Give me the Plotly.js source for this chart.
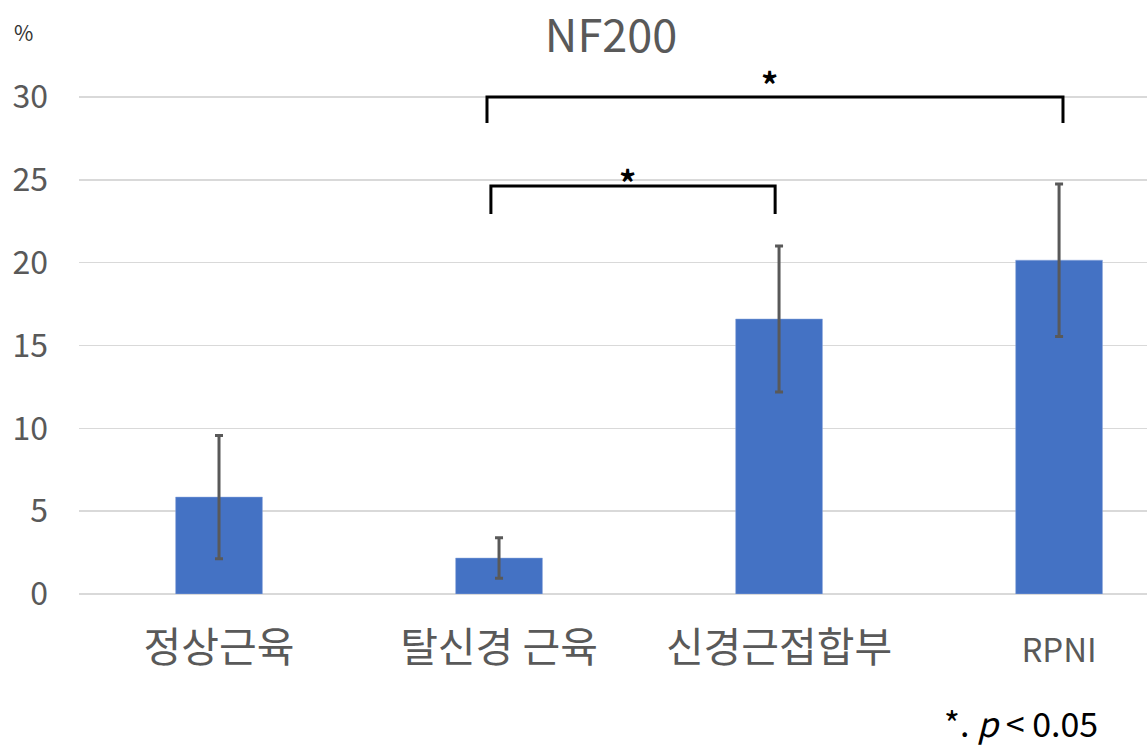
<!DOCTYPE html>
<html>
<head>
<meta charset="utf-8">
<script src="https://cdn.plot.ly/plotly-3.0.1.min.js"></script>
<style>html,body{margin:0;padding:0;background:#fff;}#chart{width:1147px;height:747px;}</style>
</head>
<body>
<div id="chart"></div>
<script>
var categories = ["정상근육", "탈신경 근육", "신경근접합부", "RPNI"];
var means = [5.85, 2.17, 16.6, 20.15];
var errors = [3.72, 1.22, 4.4, 4.6];
var yTicks = [0, 5, 10, 15, 20, 25, 30];
var comparisons = [
  {from: 1, to: 3, level: 30.0, drop: 1.57, label: "*"},
  {from: 1, to: 2, level: 24.63, drop: 1.69, label: "*"}
];

var FONT = '"Noto Sans CJK KR", "Noto Sans", sans-serif';
var xIdx = categories.map(function(_, i){ return i; });

var trace = {
  type: 'bar',
  x: xIdx,
  y: means,
  width: 0.31,
  marker: {color: '#4472C4', line: {color: '#8fa9dc', width: 0.5}},
  error_y: {type: 'data', array: errors, visible: true, color: '#595959', thickness: 3, width: 4},
  hoverinfo: 'none'
};

var bracketOffsets = [[-0.043, 0.014], [-0.029, -0.014]];
var starY = [30.84, 24.87];
var shapes = [];
var annotations = [];
comparisons.forEach(function(c, i){
  var x0 = c.from + bracketOffsets[i][0], x1 = c.to + bracketOffsets[i][1];
  shapes.push({
    type: 'path', xref: 'x', yref: 'y',
    path: 'M ' + x0 + ' ' + (c.level - c.drop) + ' L ' + x0 + ' ' + c.level + ' L ' + x1 + ' ' + c.level + ' L ' + x1 + ' ' + (c.level - c.drop),
    line: {color: '#000', width: 3}
  });
  annotations.push({
    xref: 'x', yref: 'y', x: (x0 + x1) / 2 - 0.02, y: starY[i],
    text: '<b>' + c.label + '</b>', showarrow: false, yanchor: 'middle',
    font: {family: FONT, size: 34, color: '#000'}
  });
});

annotations.push({
  xref: 'paper', yref: 'paper', x: -79/1068, y: 1 + (40 - 32)/554,
  xanchor: 'left', yanchor: 'middle', xshift: 12,
  text: '%', showarrow: false,
  font: {family: FONT, size: 21, color: '#333'}
});
annotations.push({
  xref: 'paper', yref: 'paper', x: (1021 - 79)/1068, y: -(722 - 594)/554,
  xanchor: 'center', yanchor: 'middle',
  text: '*. <i>p</i> &lt; 0.05', showarrow: false,
  font: {family: FONT, size: 34, color: '#000'}
});

var tickText = categories.map(function(c){
  return /^[A-Za-z]+$/.test(c) ? '<span style="font-size:33px">' + c + '</span>' : c;
});

var layout = {
  width: 1147, height: 747,
  margin: {l: 79, r: 0, t: 40, b: 153, pad: 0},
  paper_bgcolor: '#fff', plot_bgcolor: '#fff',
  showlegend: false,
  title: {text: 'NF200', x: 611/1147, xanchor: 'center', y: 1 - 36/747, yanchor: 'middle', yref: 'container',
          font: {family: FONT, size: 45, color: '#595959'}},
  xaxis: {
    range: [-0.5, 3.314], tickvals: xIdx, ticktext: tickText,
    showgrid: false, zeroline: false, showline: false, ticks: '',
    ticklabelstandoff: 26,
    tickfont: {family: FONT, size: 41, color: '#595959'},
    fixedrange: true
  },
  yaxis: {
    range: [0, 33.44], tickvals: yTicks, ticktext: yTicks.map(String),
    showgrid: true, gridcolor: '#d9d9d9', gridwidth: 1.5,
    zeroline: true, zerolinecolor: '#d9d9d9', zerolinewidth: 2,
    showline: false, ticks: '', ticklabelstandoff: 30,
    tickfont: {family: FONT, size: 32, color: '#595959'},
    fixedrange: true
  },
  shapes: shapes,
  annotations: annotations
};

Plotly.newPlot('chart', [trace], layout, {displayModeBar: false, staticPlot: true});
</script>
</body>
</html>
